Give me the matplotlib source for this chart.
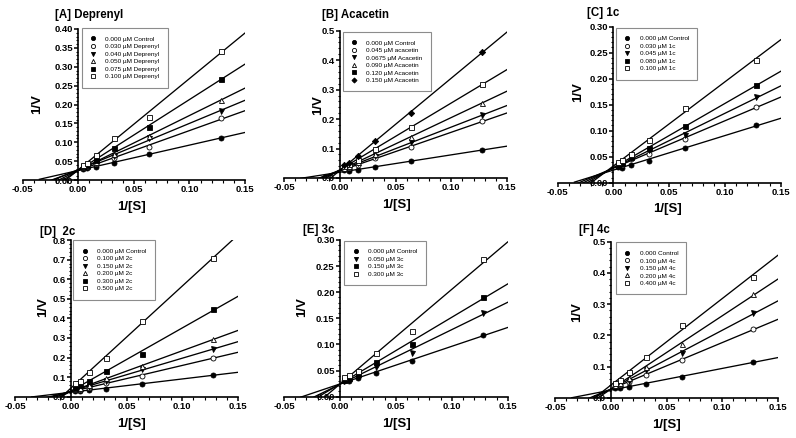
import numpy as np
import matplotlib
matplotlib.use('Agg')
import matplotlib.pyplot as plt
from matplotlib.ticker import MultipleLocator, FormatStrFormatter
from matplotlib.lines import Line2D

plt.rcParams['font.family'] = ['Liberation Sans', 'DejaVu Sans']
plt.rcParams['axes.unicode_minus'] = False

# ---------------- data ----------------
inv_s = [0.004, 0.008, 0.016, 0.032, 0.064, 0.128]   # 1/[S]

a_title = "[A] Deprenyl"
a_labels = ["0.000 µM Control", "0.030 µM Deprenyl", "0.040 µM Deprenyl",
            "0.050 µM Deprenyl", "0.075 µM Deprenyl", "0.100 µM Deprenyl"]
a_control = [0.030, 0.032, 0.035, 0.044, 0.068, 0.112]
a_030 = [0.032, 0.035, 0.042, 0.058, 0.088, 0.163]
a_040 = [0.033, 0.037, 0.046, 0.064, 0.112, 0.182]
a_050 = [0.034, 0.038, 0.049, 0.068, 0.117, 0.213]
a_075 = [0.036, 0.041, 0.054, 0.085, 0.141, 0.268]
a_100 = [0.040, 0.046, 0.066, 0.110, 0.167, 0.342]

b_title = "[B] Acacetin"
b_labels = ["0.000 µM Control", "0.045 µM acacetin", "0.0675 µM Acacetin",
            "0.090 µM Acacetin", "0.120 µM Acacetin", "0.150 µM Acacetin"]
b_control = [0.026, 0.024, 0.027, 0.036, 0.057, 0.096]
b_045 = [0.030, 0.034, 0.045, 0.068, 0.105, 0.193]
b_0675 = [0.032, 0.036, 0.050, 0.075, 0.121, 0.213]
b_090 = [0.035, 0.040, 0.055, 0.082, 0.140, 0.256]
b_120 = [0.040, 0.046, 0.062, 0.099, 0.172, 0.319]
b_150 = [0.043, 0.051, 0.073, 0.124, 0.222, 0.429]

c_title = "[C] 1c"
c_labels = ["0.000 µM Control", "0.030 µM 1c", "0.045 µM 1c", "0.080 µM 1c", "0.100 µM 1c"]
c_control = [0.031, 0.029, 0.034, 0.042, 0.067, 0.110]
c_030 = [0.033, 0.035, 0.045, 0.055, 0.084, 0.146]
c_045 = [0.034, 0.036, 0.047, 0.062, 0.091, 0.165]
c_080 = [0.035, 0.038, 0.050, 0.066, 0.109, 0.187]
c_100 = [0.039, 0.044, 0.056, 0.082, 0.144, 0.236]

d_title = "[D]  2c"
d_labels = ["0.000 µM Control", "0.100 µM 2c", "0.150 µM 2c", "0.200 µM 2c",
            "0.300 µM 2c", "0.500 µM 2c"]
d_control = [0.028, 0.030, 0.032, 0.041, 0.065, 0.111]
d_100 = [0.033, 0.036, 0.045, 0.070, 0.107, 0.199]
d_150 = [0.036, 0.040, 0.052, 0.082, 0.140, 0.242]
d_200 = [0.038, 0.043, 0.058, 0.094, 0.157, 0.294]
d_300 = [0.045, 0.058, 0.080, 0.133, 0.218, 0.449]
d_500 = [0.068, 0.082, 0.128, 0.199, 0.388, 0.708]

e_title = "[E] 3c"
e_labels = ["0.000 µM Control", "0.050 µM 3c", "0.150 µM 3c", "0.300 µM 3c"]
e_control = [0.030, 0.031, 0.035, 0.045, 0.069, 0.118]
e_050 = [0.031, 0.033, 0.040, 0.057, 0.084, 0.161]
e_150 = [0.032, 0.035, 0.043, 0.067, 0.101, 0.190]
e_300 = [0.037, 0.042, 0.050, 0.084, 0.126, 0.263]

f_title = "[F] 4c"
f_labels = ["0.000 Control", "0.100 µM 4c", "0.150 µM 4c", "0.200 µM 4c", "0.400 µM 4c"]
f_control = [0.032, 0.030, 0.033, 0.044, 0.067, 0.115]
f_100 = [0.037, 0.040, 0.050, 0.073, 0.121, 0.220]
f_150 = [0.040, 0.043, 0.055, 0.089, 0.142, 0.272]
f_200 = [0.042, 0.046, 0.064, 0.099, 0.172, 0.332]
f_400 = [0.048, 0.057, 0.083, 0.131, 0.233, 0.388]

x_ticks = [-0.05, 0.00, 0.05, 0.10, 0.15]

# ---------------- styles ----------------
FC = ('o', True); OC = ('o', False); FT = ('v', True); OT = ('^', False)
FS = ('s', True); OS = ('s', False); FD = ('D', True)

W, H = 796, 438
fig = plt.figure(figsize=(W / 100, H / 100), dpi=100)


def fx(px):
    return px / W


def fy(py):
    return 1 - py / H


panels = [
    dict(title=a_title, labels=a_labels, series=[a_control, a_030, a_040, a_050, a_075, a_100],
         styles=[FC, OC, FT, OT, FS, OS], lstyles=None,
         box=(22.7, 245, 29, 180), ymax=0.40, ymaj=0.05, yfmt='%.2f',
         tpos=(55, 15), ylpos=(37, 104), xlpos=(132, 207), leg=(0.265, 1.007)),
    dict(title=b_title, labels=b_labels, series=[b_control, b_045, b_0675, b_090, b_120, b_150],
         styles=[FC, OC, FT, OT, OS, FD], lstyles=[FC, OC, FT, OT, FS, FD],
         box=(284, 507, 30.7, 178), ymax=0.5, ymaj=0.1, yfmt='%.1f',
         tpos=(321.7, 15), ylpos=(318.3, 105), xlpos=(396.7, 205), leg=(0.263, 0.993)),
    dict(title=c_title, labels=c_labels, series=[c_control, c_030, c_045, c_080, c_100],
         styles=[FC, OC, FT, FS, OS], lstyles=None,
         box=(557.7, 780.7, 26.7, 182.7), ymax=0.30, ymaj=0.05, yfmt='%.2f',
         tpos=(586.7, 13.3), ylpos=(577.7, 92), xlpos=(668, 209), leg=(0.261, 0.994)),
    dict(title=d_title, labels=d_labels, series=[d_control, d_100, d_150, d_200, d_300, d_500],
         styles=[FC, OC, FT, OT, FS, OS], lstyles=None,
         box=(15, 238, 240, 396.7), ymax=0.8, ymaj=0.1, yfmt='%.1f',
         tpos=(40, 231.7), ylpos=(42.7, 307), xlpos=(131.7, 424), leg=(0.261, 1.0)),
    dict(title=e_title, labels=e_labels, series=[e_control, e_050, e_150, e_300],
         styles=[FC, FT, FS, OS], lstyles=None,
         box=(284, 507.7, 240, 396.7), ymax=0.30, ymaj=0.05, yfmt='%.2f',
         tpos=(303.3, 230), ylpos=(301.7, 307), xlpos=(396.7, 424), leg=(0.27, 0.996)),
    dict(title=f_title, labels=f_labels, series=[f_control, f_100, f_150, f_200, f_400],
         styles=[FC, OC, FT, OT, OS], lstyles=None,
         box=(555, 778, 241.7, 397.7), ymax=0.5, ymaj=0.1, yfmt='%.1f',
         tpos=(579.3, 230), ylpos=(576.7, 312), xlpos=(666.7, 425), leg=(0.273, 0.996)),
]

x_line = np.linspace(-0.035, 0.15, 50)

for p in panels:
    l, r, t, b = p['box']
    ax = fig.add_axes([fx(l), fy(b), (r - l) / W, (b - t) / H])
    ax.set_xlim(-0.05, 0.15)
    ax.set_ylim(0, p['ymax'])
    for side in ('top', 'right'):
        ax.spines[side].set_visible(False)
    ax.spines['left'].set_position(('data', 0))
    for side in ('left', 'bottom'):
        ax.spines[side].set_linewidth(1.2)
    ax.patch.set_alpha(0)

    ax.set_xticks(x_ticks)
    ax.xaxis.set_major_formatter(FormatStrFormatter('%.2f'))
    ax.xaxis.set_minor_locator(MultipleLocator(0.01))
    ax.yaxis.set_major_locator(MultipleLocator(p['ymaj']))
    ax.yaxis.set_major_formatter(FormatStrFormatter(p['yfmt']))
    ax.yaxis.set_minor_locator(MultipleLocator(p['ymaj'] / 5))
    ax.tick_params(which='major', direction='out', length=3, width=1.1,
                   labelsize=6.8, pad=0.8)
    ax.tick_params(which='minor', direction='out', length=1.8, width=0.8)
    for lab in ax.get_xticklabels() + ax.get_yticklabels():
        lab.set_fontweight('bold')

    for vals, (m, filled) in zip(p['series'], p['styles']):
        slope, icpt = np.polyfit(inv_s, vals, 1)
        ax.plot(x_line, slope * x_line + icpt, color='black', lw=0.95, zorder=2)
        ax.plot(inv_s, vals, linestyle='none', marker=m,
                markersize=3.6 if m != 'D' else 3.2,
                markerfacecolor='black' if filled else 'white',
                markeredgecolor='black', markeredgewidth=0.6, zorder=3)

    lstyles = p['lstyles'] or p['styles']
    handles = [Line2D([], [], linestyle='none', marker=m,
                      markersize=3.0 if m != 'D' else 2.6,
                      markerfacecolor='black' if filled else 'white',
                      markeredgecolor='black', markeredgewidth=0.6)
               for (m, filled) in lstyles]
    leg = ax.legend(handles, p['labels'], loc='upper left', bbox_to_anchor=p['leg'],
                    fontsize=4.6, frameon=True, fancybox=False, edgecolor='#8c8c8c',
                    framealpha=1, borderpad=1.3, labelspacing=0.32, handlelength=1.0,
                    handletextpad=1.4, borderaxespad=0)
    leg.get_frame().set_linewidth(0.8)

    ax.set_xlabel('1/[S]', fontsize=9.5, fontweight='bold', va='center', ha='center')
    ax.xaxis.set_label_coords(fx(p['xlpos'][0]), fy(p['xlpos'][1]), transform=fig.transFigure)
    ax.set_ylabel('1/V', fontsize=9.5, fontweight='bold', va='center', ha='center')
    ax.yaxis.set_label_coords(fx(p['ylpos'][0]), fy(p['ylpos'][1]), transform=fig.transFigure)

    fig.text(fx(p['tpos'][0]), fy(p['tpos'][1]), p['title'], fontsize=8.3,
             fontweight='bold', ha='left', va='center')

fig.savefig('out.png', dpi=100)
